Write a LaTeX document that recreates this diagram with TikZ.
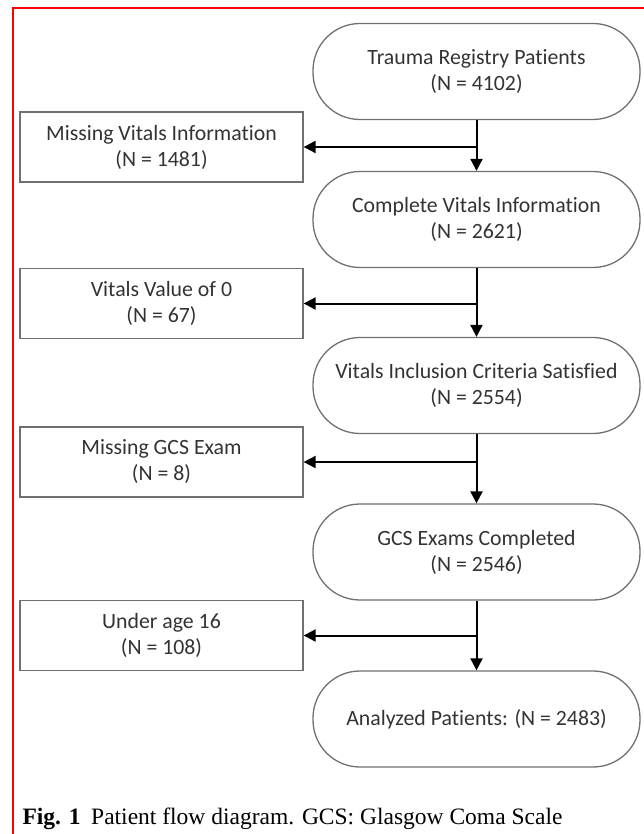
\documentclass[tikz,border=0pt]{standalone}
\usepackage{fontspec}
\setmainfont[Ligatures=NoCommon]{Carlito}
\newfontfamily\captionfont{Liberation Serif}
\usetikzlibrary{arrows.meta}

\definecolor{outlinegray}{HTML}{707070}
\definecolor{labelgray}{HTML}{333333}
\definecolor{framered}{HTML}{FF0000}

\tikzset{
  flowtext/.style={align=center, text=labelgray, font=\fontsize{21.8}{26}\selectfont},
  terminal/.style={flowtext, draw=outlinegray, line width=1.3pt, rounded corners=47pt,
    minimum width=327pt, minimum height=96pt},
  exclbox/.style={flowtext, draw=outlinegray, line width=1.3pt,
    minimum width=283pt, minimum height=70pt},
  flow/.style={line width=2pt, -{Triangle[length=12pt,width=12pt]}}
}

\begin{document}
\begin{tikzpicture}[x=1pt, y=-1pt]
    \useasboundingbox (0,0) rectangle (644,834);
    \draw[framered, line width=2.5pt] (13,834) -- (13,8) -- (644,8);

    % main column
    \node[terminal] (reg) at (476.5,71.5) {Trauma Registry Patients\\(N = 4102)};
    \node[terminal] (vit) at (476.5,219.5) {Complete Vitals Information\\(N = 2621)};
    \node[terminal] (inc) at (476.5,385.5) {Vitals Inclusion Criteria Satisfied\\(N = 2554)};
    \node[terminal] (gcs) at (476.5,552) {GCS Exams Completed\\(N = 2546)};
    \node[terminal] (ana) at (476.5,719) {Analyzed Patients: (N = 2483)};

    % excluded
    \node[exclbox] (novit) at (161.5,147) {Missing Vitals Information\\(N = 1481)};
    \node[exclbox] (zero) at (161.5,303.5) {Vitals Value of 0\\(N = 67)};
    \node[exclbox] (nogcs) at (161.5,462) {Missing GCS Exam\\(N = 8)};
    \node[exclbox] (young) at (161.5,635.5) {Under age 16\\(N = 108)};

    \draw[flow] (reg) -- (vit);
    \draw[flow] (vit) -- (inc);
    \draw[flow] (inc) -- (gcs);
    \draw[flow] (gcs) -- (ana);

    \draw[flow] (reg.south |- novit.east) -- (novit.east);
    \draw[flow] (vit.south |- zero.east) -- (zero.east);
    \draw[flow] (inc.south |- nogcs.east) -- (nogcs.east);
    \draw[flow] (gcs.south |- young.east) -- (young.east);

    \node[anchor=base west, font=\captionfont\fontsize{23.5}{28}\selectfont] (cap) at (19,824)
      {\textbf{Fig. 1}\hspace{0.45em}Patient flow diagram. GCS: Glasgow Coma Scale};
\end{tikzpicture}
\end{document}
